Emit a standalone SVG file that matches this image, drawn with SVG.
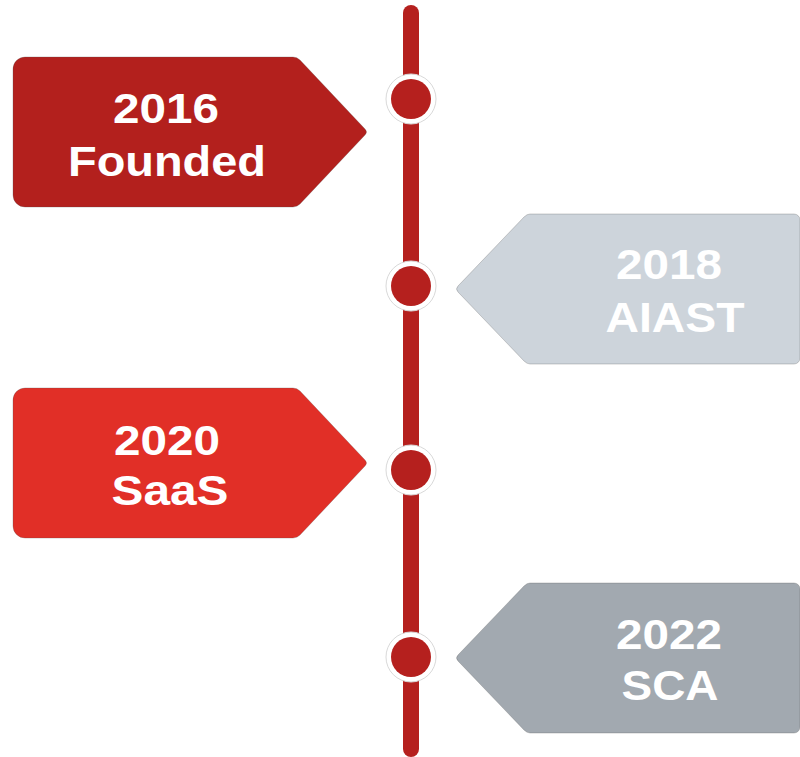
<svg xmlns="http://www.w3.org/2000/svg" xmlns:xlink="http://www.w3.org/1999/xlink" width="800" height="757" viewBox="0 0 800 757">
  <style>
    .label { font-family: "Liberation Sans", Arial, Helvetica, sans-serif; font-weight: bold; font-size: 42px; fill: #ffffff; text-anchor: middle; }
    .axis { stroke: #B5201E; stroke-width: 16; stroke-linecap: round; fill: none; }
    .dot-ring { fill: #ffffff; stroke: #d9d9d9; stroke-width: 1; }
    .dot { fill: #B5201E; }
    .tag-edge { stroke-width: 0.8; stroke-opacity: 0.35; stroke: #555; }
  </style>
  <defs>
    <!-- pennant pointing right (label on the left of the axis), local top at y=0 -->
    <path id="tag-right" d="M25,0 H293 Q297,0 300,3 L365,72 Q368,75 365,78 L300,147 Q297,150 293,150 H25 A12,12 0 0 1 13,138 V12 A12,12 0 0 1 25,0 Z"/>
    <!-- pennant pointing left (label on the right of the axis) -->
    <path id="tag-left" d="M530,0 H794 A6,6 0 0 1 800,6 V144 A6,6 0 0 1 794,150 H530 Q527,150 524,147 L458,78 Q455,75 458,72 L524,3 Q527,0 530,0 Z"/>
  </defs>

  <!-- vertical timeline axis -->
  <g id="connectors">
    <line class="axis" x1="411" y1="13" x2="411" y2="749"/>
  </g>

  <!-- milestone markers on the axis -->
  <g id="markers">
    <g id="marker-2016"><circle class="dot-ring" cx="411" cy="99" r="25"/><circle class="dot" cx="411" cy="99" r="20"/></g>
    <g id="marker-2018"><circle class="dot-ring" cx="411" cy="286" r="25"/><circle class="dot" cx="411" cy="286" r="20"/></g>
    <g id="marker-2020"><circle class="dot-ring" cx="411" cy="470" r="25"/><circle class="dot" cx="411" cy="470" r="20"/></g>
    <g id="marker-2022"><circle class="dot-ring" cx="411" cy="657" r="25"/><circle class="dot" cx="411" cy="657" r="20"/></g>
  </g>

  <g id="node-2016" transform="translate(0,57)">
    <use xlink:href="#tag-right" href="#tag-right" fill="#B3201D" class="tag-edge"/>
    <text class="label" x="166" y="66" textLength="106" lengthAdjust="spacingAndGlyphs">2016</text>
    <text class="label" x="167" y="119" textLength="198" lengthAdjust="spacingAndGlyphs">Founded</text>
  </g>

  <g id="node-2018" transform="translate(0,214)">
    <use xlink:href="#tag-left" href="#tag-left" fill="#CDD4DB" class="tag-edge"/>
    <text class="label" x="669" y="65" textLength="106" lengthAdjust="spacingAndGlyphs">2018</text>
    <text class="label" x="675" y="118" textLength="139" lengthAdjust="spacingAndGlyphs">AIAST</text>
  </g>

  <g id="node-2020" transform="translate(0,388)">
    <use xlink:href="#tag-right" href="#tag-right" fill="#E12F27" class="tag-edge"/>
    <text class="label" x="167" y="67" textLength="106" lengthAdjust="spacingAndGlyphs">2020</text>
    <text class="label" x="170" y="117" textLength="117" lengthAdjust="spacingAndGlyphs">SaaS</text>
  </g>

  <g id="node-2022" transform="translate(0,583)">
    <use xlink:href="#tag-left" href="#tag-left" fill="#A2A9B0" class="tag-edge"/>
    <text class="label" x="669" y="66" textLength="106" lengthAdjust="spacingAndGlyphs">2022</text>
    <text class="label" x="670" y="117" textLength="97" lengthAdjust="spacingAndGlyphs">SCA</text>
  </g>
</svg>
